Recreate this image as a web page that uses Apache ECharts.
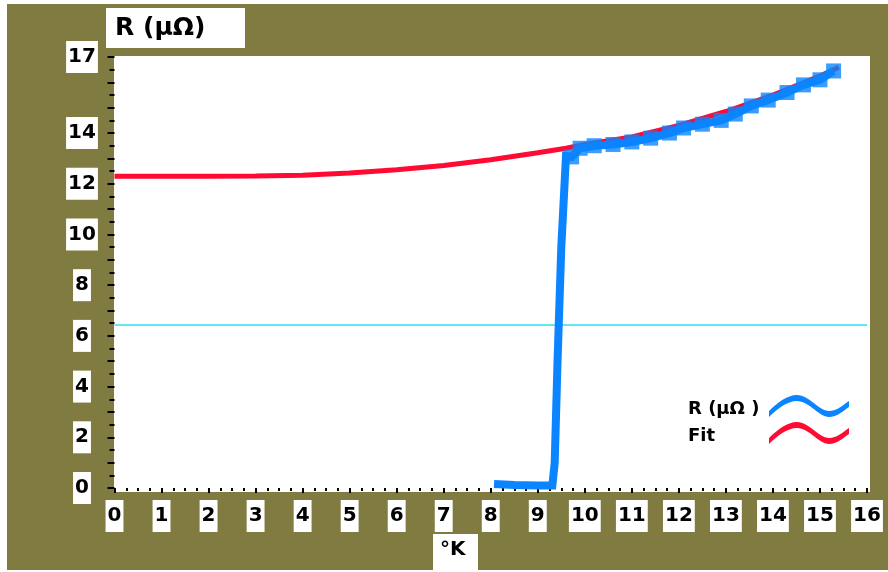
<!DOCTYPE html>
<html>
<head>
<meta charset="utf-8">
<style>
  html, body { margin: 0; padding: 0; background: #ffffff; }
  #chart { width: 888px; height: 572px; }
</style>
<script src="https://cdn.jsdelivr.net/npm/echarts@6/dist/echarts.min.js"></script>
</head>
<body>
<div id="chart"></div>
<script>
// Measured resistance (µΩ) against temperature (K)
const sampleT = [8.07, 8.5, 9.0, 9.31, 9.36, 9.42, 9.5, 9.6, 9.72, 9.9, 10.2, 10.6, 11.0, 11.4, 11.8, 12.1, 12.5, 12.9, 13.2, 13.54, 13.9, 14.3, 14.65, 15.0, 15.29];
const sampleR = [0.16, 0.12, 0.1, 0.1, 1.0, 5.0, 9.5, 13.1, 13.06, 13.4, 13.5, 13.55, 13.65, 13.8, 14.0, 14.2, 14.35, 14.5, 14.75, 15.07, 15.3, 15.6, 15.9, 16.1, 16.45];
// Points drawn with square markers (normal-state readings)
const markerT = [9.72, 9.9, 10.2, 10.6, 11.0, 11.4, 11.8, 12.1, 12.5, 12.9, 13.2, 13.54, 13.9, 14.3, 14.65, 15.0, 15.29];
const markerR = [13.06, 13.4, 13.5, 13.55, 13.65, 13.8, 14.0, 14.2, 14.35, 14.5, 14.75, 15.07, 15.3, 15.6, 15.9, 16.1, 16.45];

// Fitted normal-state curve
const fitT = [0, 1, 2, 3, 4, 5, 6, 7, 8, 9, 9.6, 10, 11, 12, 13, 14, 15, 15.4];
const fitR = [12.3, 12.3, 12.3, 12.31, 12.34, 12.42, 12.55, 12.72, 12.95, 13.22, 13.4, 13.55, 13.85, 14.3, 14.85, 15.5, 16.25, 16.6];

// Half-height reference level
const refT = [0, 16];
const refR = [6.43, 6.43];

// Tick labels
const xTickLabels = [0, 1, 2, 3, 4, 5, 6, 7, 8, 9, 10, 11, 12, 13, 14, 15, 16];
const yTickLabels = [0, 2, 4, 6, 8, 10, 12, 14, 17];

const OLIVE = '#807b40';
const BLUE = '#0a84ff';
const RED = '#ff0a33';
const CYAN = '#62e8f2';
const FONT = 'DejaVu Sans';

const zip = (xs, ys) => xs.map((x, i) => [x, ys[i]]);

// wavy legend glyph
const wave = 'path://M0,17 C8,9 18,1 28,1 C40,1 50,17 60,17 C68,17 74,11 80,7 L80,13 C74,17 68,23 60,23 C50,23 40,7 28,7 C18,7 8,15 0,23 Z';

const labelBox = {
  color: '#000',
  fontFamily: FONT,
  fontWeight: 'bold',
  fontSize: 20,
  lineHeight: 20,
  backgroundColor: '#ffffff',
  padding: [6, 2, 6, 2]
};

const chart = echarts.init(document.getElementById('chart'), null, { renderer: 'canvas' });

chart.setOption({
  animation: false,
  backgroundColor: '#ffffff',
  graphic: [
    { type: 'rect', z: -10, shape: { x: 7, y: 4, width: 881, height: 566 }, style: { fill: OLIVE } },
    { type: 'rect', z: -9, shape: { x: 114, y: 56, width: 756, height: 436 }, style: { fill: '#ffffff' } },
    { type: 'rect', z: 5, shape: { x: 106, y: 8, width: 139, height: 40 }, style: { fill: '#ffffff' } },
    { type: 'text', z: 6, x: 115, y: 28, style: { text: 'R (µΩ)', fill: '#000', font: 'bold 25px "DejaVu Sans"', textVerticalAlign: 'middle' } },
    { type: 'rect', z: 5, shape: { x: 433, y: 534, width: 45, height: 38 }, style: { fill: '#ffffff' } },
    { type: 'text', z: 6, x: 440, y: 550, style: { text: '°K', fill: '#000', font: 'bold 20px "DejaVu Sans"', textVerticalAlign: 'middle' } }
  ],
  grid: { left: 114.5, right: 21, top: 57, bottom: 84, containLabel: false },
  legend: {
    orient: 'vertical',
    left: 683,
    top: 390,
    align: 'right',
    itemWidth: 80,
    itemHeight: 24,
    itemGap: 4,
    selectedMode: false,
    formatter: name => '{t|' + name + '}',
    textStyle: {
      rich: { t: { width: 76, align: 'left', fontFamily: FONT, fontWeight: 'bold', fontSize: 18, color: '#000', padding: [6, 0, 0, 0] } }
    },
    data: [
      { name: 'R (µΩ )', icon: wave },
      { name: 'Fit', icon: wave }
    ]
  },
  xAxis: {
    type: 'value',
    min: 0,
    max: 16,
    interval: 1,
    offset: 4,
    axisLine: { show: false },
    splitLine: { show: false },
    axisTick: { show: true, length: 5, lineStyle: { color: '#000', width: 2 } },
    minorTick: { show: true, splitNumber: 4, length: 3, lineStyle: { color: '#000', width: 2 } },
    axisLabel: Object.assign({ margin: 8, customValues: xTickLabels }, labelBox)
  },
  yAxis: {
    type: 'value',
    min: 0,
    max: 17,
    interval: 1,
    axisLine: { show: false },
    splitLine: { show: false },
    axisTick: { show: true, length: 7, lineStyle: { color: '#000', width: 2 } },
    minorTick: { show: true, splitNumber: 2, length: 5, lineStyle: { color: '#000', width: 2 } },
    axisLabel: Object.assign({ margin: 32.5, align: 'center', customValues: yTickLabels }, labelBox)
  },
  series: [
    {
      name: 'half-height',
      type: 'line',
      data: zip(refT, refR),
      symbol: 'none',
      lineStyle: { color: CYAN, width: 2 },
      z: 1,
      silent: true
    },
    {
      name: 'Fit',
      type: 'line',
      data: zip(fitT, fitR),
      symbol: 'none',
      color: RED,
      lineStyle: { color: RED, width: 5 },
      z: 2
    },
    {
      name: 'R (µΩ )',
      type: 'line',
      data: zip(sampleT, sampleR),
      symbol: 'none',
      color: BLUE,
      lineStyle: { color: BLUE, width: 8, join: 'miter' },
      z: 3
    },
    {
      name: 'R (µΩ )',
      type: 'scatter',
      data: zip(markerT, markerR),
      symbol: 'rect',
      symbolSize: 15,
      color: BLUE,
      itemStyle: { color: BLUE },
      z: 4
    }
  ]
});
</script>
</body>
</html>
